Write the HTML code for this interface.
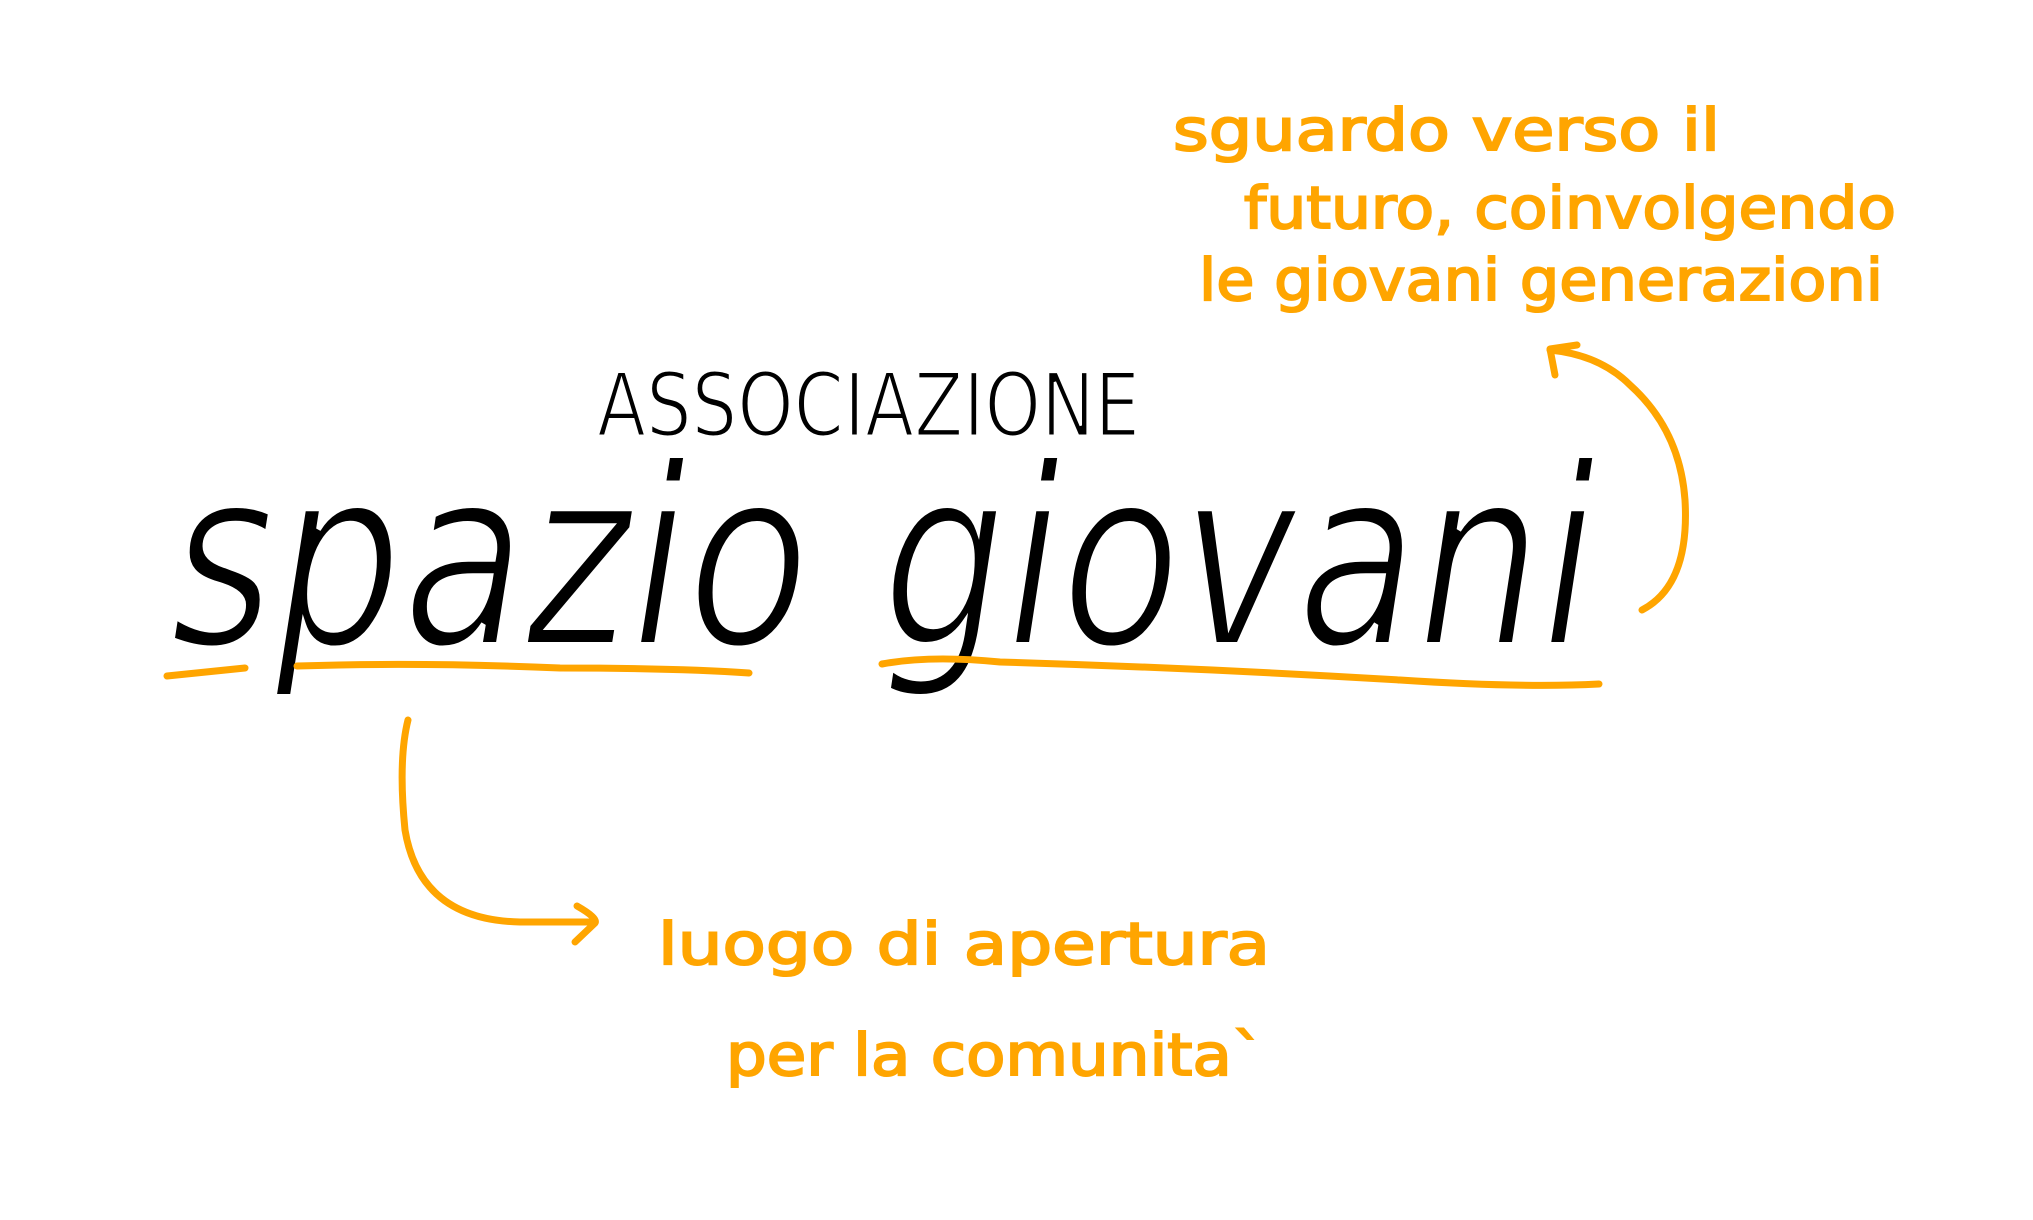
<!DOCTYPE html>
<html><head><meta charset="utf-8"><style>
html,body{margin:0;padding:0;background:#fff;}
svg{display:block;}
</style></head><body>
<svg width="2033" height="1220" viewBox="0 0 2033 1220" xmlns="http://www.w3.org/2000/svg">
<g font-family="DejaVu Sans, Liberation Sans, sans-serif" fill="#FFA500" stroke="#FFA500" stroke-width="2" font-size="58">
<text x="1173" y="150" textLength="547" lengthAdjust="spacingAndGlyphs">sguardo verso il</text>
<text x="1244" y="228" textLength="652" lengthAdjust="spacingAndGlyphs">futuro, coinvolgendo</text>
<text x="1199" y="300" textLength="684" lengthAdjust="spacingAndGlyphs">le giovani generazioni</text>
<text x="658" y="964" textLength="612" lengthAdjust="spacingAndGlyphs">luogo di apertura</text>
<text x="726" y="1075" textLength="538" lengthAdjust="spacingAndGlyphs">per la comunita`</text>
</g>
<text x="597" y="436" font-family="DejaVu Sans, Liberation Sans, sans-serif" font-size="88" fill="#000" stroke="#fff" stroke-width="3" style="paint-order:fill stroke" textLength="543" lengthAdjust="spacingAndGlyphs">ASSOCIAZIONE</text>
<g font-family="DejaVu Sans, Liberation Sans, sans-serif" font-style="italic" font-size="250" fill="#000" stroke="#fff" stroke-width="6" style="paint-order:fill stroke">
<text x="170" y="645" textLength="640" lengthAdjust="spacingAndGlyphs">spazio</text>
<text x="882" y="645" textLength="714" lengthAdjust="spacingAndGlyphs">giovani</text>
</g>
<g fill="none" stroke="#FFA500" stroke-width="7" stroke-linecap="round" stroke-linejoin="round">
<path d="M167 676 L245 668"/>
<path d="M297 666 Q420 662 560 668 Q680 668 749 673"/>
<path d="M882 664 Q930 655 1000 662 Q1200 668 1400 680 Q1520 688 1599 684"/>
<path d="M1642 610 Q1690 585 1685 500 Q1680 430 1630 385 Q1600 355 1550 350"/>
<path d="M1577 345 L1550 349 L1555 375"/>
<path d="M408 720 Q398 760 405 830 Q420 920 520 922 L593 922"/>
<path d="M577 906 Q598 918 595 923 L575 942"/>
</g>
</svg>
</body></html>
